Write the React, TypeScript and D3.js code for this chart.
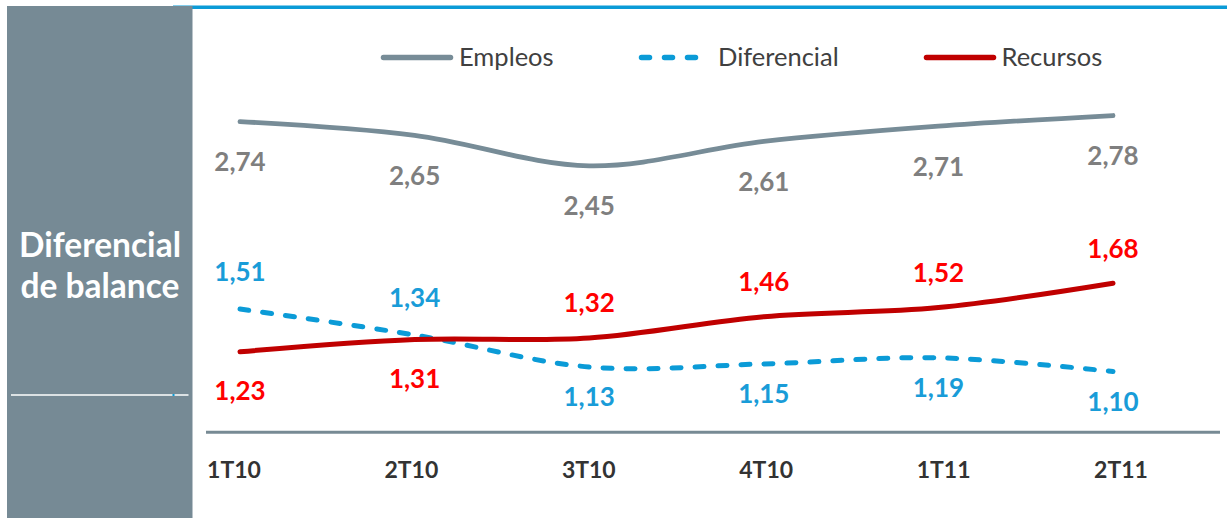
import React from "react";
import * as d3 from "d3";

const categories = ["1T10", "2T10", "3T10", "4T10", "1T11", "2T11"];
const empleos = [2.74, 2.65, 2.45, 2.61, 2.71, 2.78];
const diferencial = [1.51, 1.34, 1.13, 1.15, 1.19, 1.1];
const recursos = [1.23, 1.31, 1.32, 1.46, 1.52, 1.68];
const diferencialLabelSide = ["above", "above", "below", "below", "below", "below"];
const recursosLabelSide = ["below", "below", "above", "above", "above", "above"];
const empleosLabelSide = ["below", "below", "below", "below", "below", "below"];
const panelTitle = ["Diferencial", "de balance"];

const W = 1227;
const H = 518;
const FONT = "Lato, 'Open Sans', sans-serif";

const GRAY_LINE = "#778c97";
const BLUE = "#0b9bd7";
const RED_LINE = "#c00000";

const x = d3.scalePoint<string>().domain(categories).range([240, 1113]);
const xCat = d3.scalePoint<string>().domain(categories).range([234, 1121]);
const y = d3.scaleLinear().domain([0.7, 3.0]).range([432.5, 82]);

const line = d3
  .line<number>()
  .x((_, i) => x(categories[i]) as number)
  .y((v) => y(v))
  .curve(d3.curveCardinal.tension(0));

const fmt = (v: number) => v.toFixed(2).replace(".", ",");

type Series = {
  name: string;
  values: number[];
  sides: string[];
  stroke: string;
  width: number;
  dash?: string;
  labelColor: string;
  above: number;
  below: number;
};

const series: Series[] = [
  { name: "Empleos", values: empleos, sides: empleosLabelSide, stroke: GRAY_LINE, width: 4.8, labelColor: "#7f7f7f", above: -36, below: 40 },
  { name: "Diferencial", values: diferencial, sides: diferencialLabelSide, stroke: BLUE, width: 5, dash: "9 14", labelColor: "#199cd8", above: -37, below: 30 },
  { name: "Recursos", values: recursos, sides: recursosLabelSide, stroke: RED_LINE, width: 5, labelColor: "#ff0000", above: -35, below: 39 },
];

const legendItems = [
  { s: series[0], x0: 383.5, x1: 450.5, tx: 459 },
  { s: series[1], x0: 641.5, x1: 700.5, tx: 718 },
  { s: series[2], x0: 926.5, x1: 993.5, tx: 1001.5 },
];

export default function App() {
  return (
    <svg
      width={W}
      height={H}
      viewBox={`0 0 ${W} ${H}`}
      style={{ position: "absolute", left: 0, top: 0, background: "#fff" }}
      fontFamily={FONT}
    >
      {/* top blue rule */}
      <rect x={173} y={5.5} width={W - 173} height={3.5} fill={BLUE} />
      {/* left panel */}
      <rect x={7} y={6} width={185.5} height={H - 6} fill="#768a95" />
      <line x1={11} x2={188.5} y1={395} y2={395} stroke="#ffffff" strokeWidth={1.5} />
      <rect x={172.5} y={394} width={2} height={2} fill={BLUE} />
      {panelTitle.map((t, i) => (
        <text
          key={t}
          x={100}
          y={257 + i * 40.5}
          textAnchor="middle"
          fill="#ffffff"
          fontWeight={700}
          fontSize={33.5}
        >
          {t}
        </text>
      ))}

      {/* legend */}
      {legendItems.map(({ s, x0, x1, tx }) => (
        <g key={s.name}>
          <line
            x1={x0}
            x2={x1}
            y1={57.5}
            y2={57.5}
            stroke={s.stroke}
            strokeWidth={5.5}
            strokeLinecap="round"
            strokeDasharray={s.dash ? "8 15" : undefined}
          />
          <text x={tx} y={66} fill="#404040" fontSize={25.5}>
            {s.name}
          </text>
        </g>
      ))}

      {/* axis line */}
      <line x1={206} x2={1220} y1={432.3} y2={432.3} stroke="#778a94" strokeWidth={3} />
      {categories.map((c) => (
        <text
          key={c}
          x={xCat(c)}
          y={477.5}
          textAnchor="middle"
          fill="#333333"
          fontWeight={700}
          fontSize={23}
        >
          {c}
        </text>
      ))}

      {/* series lines */}
      {series.map((s) => (
        <path
          key={s.name}
          d={line(s.values) || ""}
          fill="none"
          stroke={s.stroke}
          strokeWidth={s.width}
          strokeLinecap="round"
          strokeDasharray={s.dash}
        />
      ))}

      {/* data labels */}
      {series.map((s) =>
        s.values.map((v, i) => (
          <text
            key={s.name + i}
            x={x(categories[i])}
            y={y(v) + (s.sides[i] === "above" ? s.above : s.below)}
            dy="0.36em"
            textAnchor="middle"
            fill={s.labelColor}
            fontWeight={700}
            fontSize={26}
          >
            {fmt(v)}
          </text>
        ))
      )}
    </svg>
  );
}
